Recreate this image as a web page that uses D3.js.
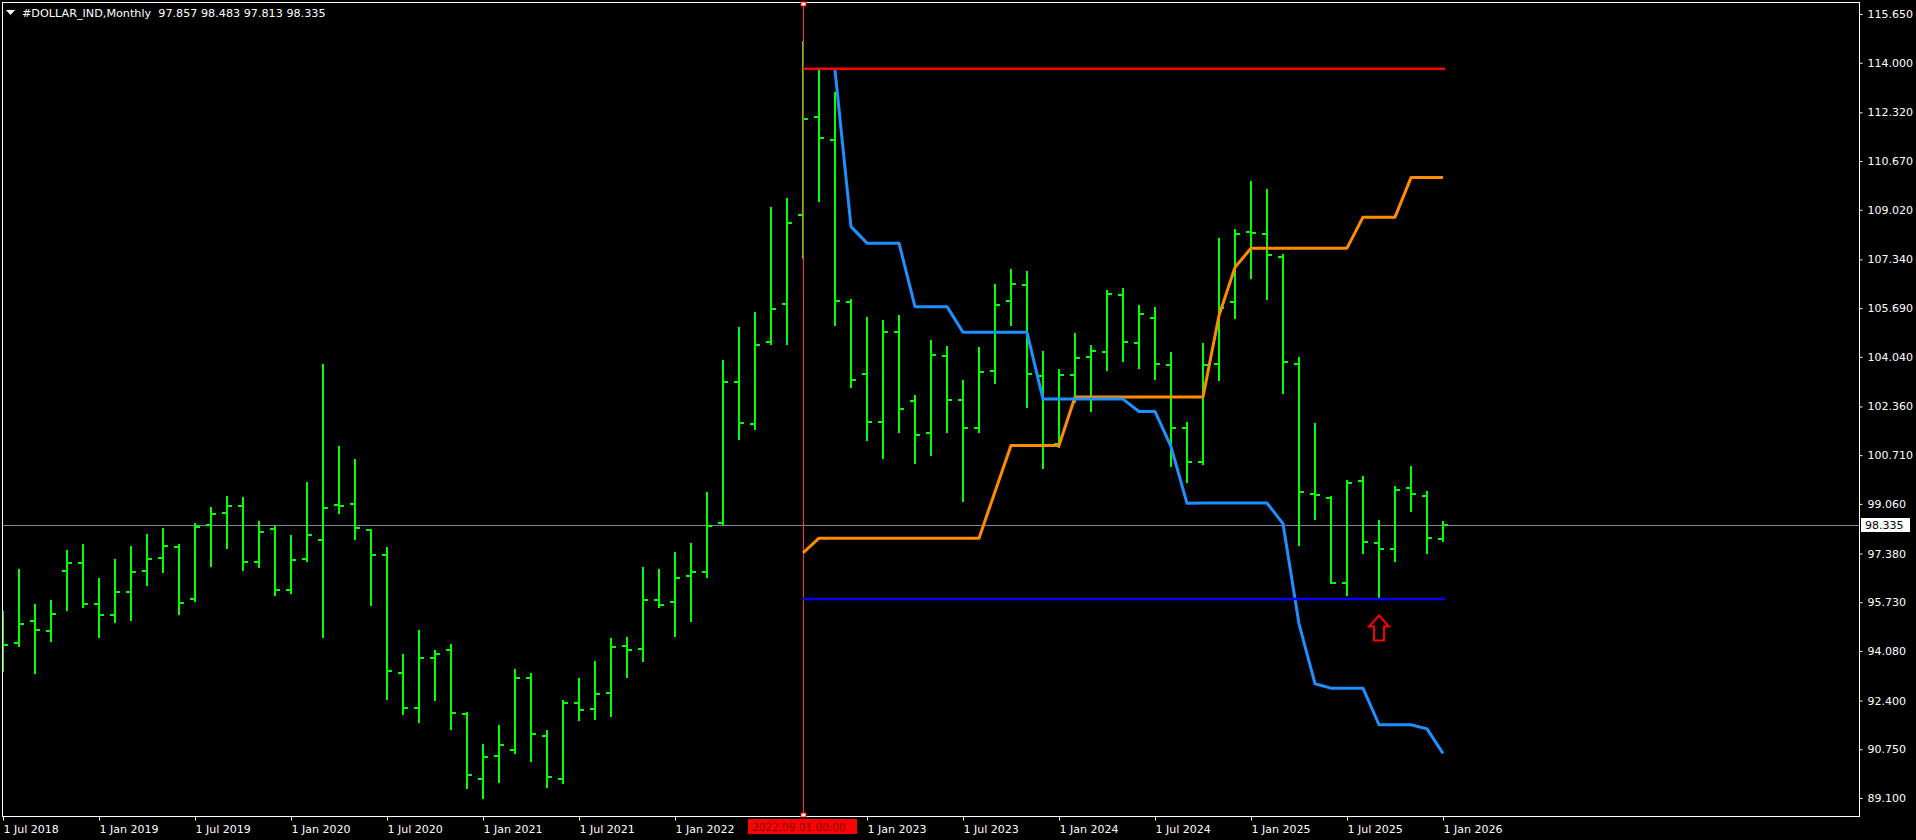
<!DOCTYPE html>
<html><head><meta charset="utf-8">
<script src="https://cdn.jsdelivr.net/npm/d3@7"></script>
<style>html,body{margin:0;padding:0;background:#000;overflow:hidden}</style>
</head><body><svg id="c" width="1916" height="840"></svg>
<script>
// ---- data ----
const months = [
 "2018-07","2018-08","2018-09","2018-10","2018-11","2018-12",
 "2019-01","2019-02","2019-03","2019-04","2019-05","2019-06","2019-07","2019-08","2019-09","2019-10","2019-11","2019-12",
 "2020-01","2020-02","2020-03","2020-04","2020-05","2020-06","2020-07","2020-08","2020-09","2020-10","2020-11","2020-12",
 "2021-01","2021-02","2021-03","2021-04","2021-05","2021-06","2021-07","2021-08","2021-09","2021-10","2021-11","2021-12",
 "2022-01","2022-02","2022-03","2022-04","2022-05","2022-06","2022-07","2022-08","2022-09","2022-10","2022-11","2022-12",
 "2023-01","2023-02","2023-03","2023-04","2023-05","2023-06","2023-07","2023-08","2023-09","2023-10","2023-11","2023-12",
 "2024-01","2024-02","2024-03","2024-04","2024-05","2024-06","2024-07","2024-08","2024-09","2024-10","2024-11","2024-12",
 "2025-01","2025-02","2025-03","2025-04","2025-05","2025-06","2025-07","2025-08","2025-09","2025-10","2025-11","2025-12",
 "2026-01"];
const open = [94.50,94.36,95.11,94.74,96.80,97.07,95.68,95.31,96.09,96.80,97.23,97.61,95.85,98.35,98.75,98.99,97.10,98.22,
 96.16,97.21,97.85,99.03,99.07,98.19,97.34,93.35,92.16,93.85,94.12,91.96,
 89.76,90.53,90.73,93.17,91.20,89.75,92.33,92.12,92.67,94.26,94.16,95.80,
 95.74,96.61,96.74,98.40,103.20,101.78,104.55,105.83,108.85,112.17,111.39,105.91,
 103.46,101.84,104.89,102.55,101.46,104.08,102.59,101.64,103.57,105.94,106.48,103.40,
 101.10,103.44,104.05,104.21,106.15,104.52,105.37,103.78,101.64,100.49,103.81,105.90,
 108.26,108.20,107.43,103.81,99.40,99.25,96.37,99.83,97.73,97.52,99.60,99.33,
 97.857];
const high = [95.43,96.86,95.67,95.81,97.50,97.70,96.55,97.19,97.64,98.04,98.24,97.70,98.40,98.96,99.33,99.29,98.48,98.31,
 98.01,99.80,103.80,101.02,100.58,98.20,97.60,93.98,94.79,94.11,94.32,92.01,
 90.93,91.57,93.47,93.33,91.41,92.41,93.17,93.74,94.52,94.56,96.93,96.85,
 97.44,97.74,99.46,103.93,105.05,105.56,109.11,109.42,114.73,113.80,113.01,106.00,
 105.39,105.29,105.46,102.75,104.61,104.41,103.25,104.37,106.51,107.01,106.95,104.24,
 103.63,104.85,104.44,106.30,106.37,105.80,105.73,104.20,101.83,104.51,108.07,108.37,
 110.00,109.72,107.51,104.03,101.80,99.32,99.87,100.02,98.53,99.65,100.34,99.50,
 98.483];
const low = [93.41,94.26,93.35,94.43,95.45,95.58,94.56,95.07,95.14,96.33,96.76,95.34,95.77,96.94,97.58,96.83,96.93,95.99,
 96.05,97.14,94.56,98.76,97.88,95.65,92.46,91.96,91.68,92.43,91.45,89.45,
 89.11,89.65,90.61,90.36,89.48,89.62,91.75,91.79,91.89,93.21,93.75,95.56,
 94.57,95.10,96.60,98.38,101.27,101.61,104.48,104.48,107.40,109.33,105.12,103.03,
 101.23,100.62,101.50,100.43,100.71,101.48,99.17,101.51,103.17,105.13,102.35,100.29,
 101.00,102.52,102.22,103.61,103.91,103.67,103.30,100.35,99.81,100.42,103.24,105.37,
 106.72,105.99,102.81,97.66,98.56,96.39,95.96,97.38,95.86,97.12,98.83,97.38,
 97.813];
const close = [94.28,95.00,94.80,95.34,97.07,95.68,95.31,96.06,96.76,97.19,97.64,95.72,98.29,98.72,98.99,97.09,98.11,96.16,
 97.17,98.02,98.93,99.00,98.25,97.34,93.41,92.16,93.85,93.99,91.99,89.89,
 90.50,90.90,93.17,91.28,89.82,92.33,92.08,92.63,94.22,94.12,95.80,95.64,
 96.56,96.74,98.31,103.20,101.80,104.45,105.66,108.58,112.10,111.46,105.94,103.27,
 101.84,104.89,102.28,101.40,104.11,102.59,101.63,103.54,105.81,106.52,103.47,101.05,
 103.43,104.01,104.25,106.18,104.55,105.50,103.81,101.64,100.49,103.78,105.70,108.20,
 108.23,107.50,103.88,99.45,99.37,96.39,99.77,97.78,97.52,99.52,99.40,97.90,
 98.335];
// orange indicator line, from Sep 2022
const orangeStart = "2022-09";
const orangeVals = [97.40,97.90,97.90,97.90,97.90,97.90,97.90,97.90,97.90,97.90,97.90,97.90,99.47,101.04,101.04,101.04,101.04,
 102.68,102.68,102.68,102.68,102.68,102.68,102.68,102.68,102.68,105.44,107.07,107.72,107.72,107.72,107.72,107.72,107.72,107.72,
 108.77,108.77,108.77,110.11,110.11,110.11];
// light blue indicator line, from Nov 2022
const blueStart = "2022-11";
const blueVals = [113.75,108.45,107.89,107.89,107.89,105.74,105.74,105.74,104.87,104.87,104.87,104.87,104.87,
 102.61,102.61,102.61,102.61,102.61,102.61,102.19,102.19,101.00,99.08,99.09,99.09,99.09,99.09,99.09,
 98.39,95.00,92.97,92.82,92.82,92.82,91.58,91.58,91.58,91.44,90.61];
// horizontal level lines
const levelStart = "2022-09", levelEnd = "2026-01";
const resistanceLevel = 113.80;
const supportLevel = 95.84;
const markerMonth = "2022-09";
const markerLabel = "2022.09.01 00:00";
const arrowMonth = "2025-09";
const arrowPrice = 95.28;
const priceTicks = [115.65,114.00,112.32,110.67,109.02,107.34,105.69,104.04,102.36,100.71,99.06,97.38,95.73,94.08,92.40,90.75,89.10];
// (the 1 Jul 2022 label is covered by the marker time label in the reference)
const timeTickMonths = ["2018-07","2019-01","2019-07","2020-01","2020-07","2021-01","2021-07","2022-01","2023-01","2023-07","2024-01","2024-07","2025-01","2025-07","2026-01"];
const timeTickLabels = ["1 Jul 2018","1 Jan 2019","1 Jul 2019","1 Jan 2020","1 Jul 2020","1 Jan 2021","1 Jul 2021","1 Jan 2022","1 Jan 2023","1 Jul 2023","1 Jan 2024","1 Jul 2024","1 Jan 2025","1 Jul 2025","1 Jan 2026"];
const symbolTitle = "#DOLLAR_IND,Monthly";

// ---- drawing ----
const FONT = "DejaVu Sans";
const FS = "11px";
const svg = d3.select("#c");
const L = 2, T = 2, R = 1859, B = 816;
const idx = m => months.indexOf(m);
const x = d3.scaleLinear().domain([0, 116]).range([3, 1859]);
const y = d3.scaleLinear().domain([89.10, 115.65]).range([798, 14]);

svg.append("rect").attr("width",1916).attr("height",840).attr("fill","#000");
svg.append("defs").append("clipPath").attr("id","plot")
  .append("rect").attr("x",L+1).attr("y",T+1).attr("width",R-L-1).attr("height",B-T-1);
const g = svg.append("g").attr("clip-path","url(#plot)");

// last price line
const lp = close[close.length-1];
g.append("line").attr("x1",L).attr("x2",R).attr("y1",Math.round(y(lp))+0.5).attr("y2",Math.round(y(lp))+0.5)
  .attr("stroke","#778899").attr("stroke-width",1);

const mx = Math.round(x(idx(markerMonth)))+0.5;

// OHLC bars
const bars = g.append("g").attr("stroke","#00ff00").attr("stroke-width",2).attr("shape-rendering","crispEdges");
months.forEach((m,i)=>{
  const cx = x(i);
  bars.append("line").attr("x1",cx).attr("x2",cx).attr("y1",Math.round(y(high[i]))).attr("y2",Math.round(y(low[i]))+1);
  bars.append("line").attr("x1",cx-5).attr("x2",cx).attr("y1",Math.round(y(open[i]))).attr("y2",Math.round(y(open[i])));
  bars.append("line").attr("x1",cx).attr("x2",cx+5).attr("y1",Math.round(y(close[i]))).attr("y2",Math.round(y(close[i])));
});

// vertical marker line
g.append("line").attr("x1",mx).attr("x2",mx).attr("y1",T).attr("y2",B).attr("stroke","#ff3030").attr("stroke-width",1);

// indicator lines
const line = d3.line().x(d=>x(d[0])).y(d=>y(d[1]));
const oS = idx(orangeStart), bS = idx(blueStart);
g.append("path").attr("d", line(orangeVals.map((v,k)=>[oS+k,v]))).attr("fill","none").attr("stroke","#ff8c00").attr("stroke-width",3).attr("stroke-linejoin","round");
g.append("path").attr("d", line(blueVals.map((v,k)=>[bS+k,v]))).attr("fill","none").attr("stroke","#1e90ff").attr("stroke-width",3).attr("stroke-linejoin","round");

// levels
const lx1 = x(idx(levelStart)), lx2 = x(idx(levelEnd))+2;
g.append("line").attr("x1",lx1).attr("x2",lx2).attr("y1",y(resistanceLevel)).attr("y2",y(resistanceLevel)).attr("stroke","#ff0000").attr("stroke-width",2.5);
g.append("line").attr("x1",lx1).attr("x2",lx2).attr("y1",y(supportLevel)).attr("y2",y(supportLevel)).attr("stroke","#0000ff").attr("stroke-width",2.5);

// arrow
const ax = x(idx(arrowMonth)), ay = y(arrowPrice);
g.append("path").attr("d",`M${ax},${ay} L${ax+10},${ay+11} L${ax+5},${ay+11} L${ax+5},${ay+25} L${ax-5},${ay+25} L${ax-5},${ay+11} L${ax-10},${ay+11} Z`)
  .attr("fill","none").attr("stroke","#ff0000").attr("stroke-width",2);

// frame
svg.append("rect").attr("x",L+0.5).attr("y",T+0.5).attr("width",R-L).attr("height",B-T).attr("fill","none").attr("stroke","#fff").attr("stroke-width",1);

// axes
const yAxis = d3.axisRight(y).tickValues(priceTicks).tickFormat(d3.format(".3f")).tickSize(3).tickPadding(5);
const ya = svg.append("g").attr("transform",`translate(${R+0.5},0)`).call(yAxis);
ya.select(".domain").remove();
ya.selectAll("line").attr("stroke","#fff");
ya.selectAll("text").attr("fill","#fff").attr("font-family",FONT).attr("font-size",FS);

const xAxis = d3.axisBottom(x).tickValues(timeTickMonths.map(idx)).tickFormat((d,i)=>timeTickLabels[i]).tickSize(4).tickPadding(5);
const xa = svg.append("g").attr("transform",`translate(0,${B+0.5})`).call(xAxis);
xa.select(".domain").remove();
xa.selectAll("line").attr("stroke","#fff");
xa.selectAll("text").attr("fill","#fff").attr("font-family",FONT).attr("font-size",FS).attr("text-anchor","start").attr("dx","0");

// marker squares & time label
[T, B-3].forEach(yy=>svg.append("rect").attr("x",mx-2.5).attr("y",yy).attr("width",5).attr("height",4).attr("fill","#fff").attr("stroke","#ff0000").attr("stroke-width",1));
svg.append("rect").attr("x",748).attr("y",819).attr("width",109).attr("height",15).attr("fill","#ff0000");
svg.append("text").attr("x",752).attr("y",831).attr("fill","#800000").attr("font-family",FONT).attr("font-size","10.5px").text(markerLabel);

// last price label
svg.append("rect").attr("x",1861).attr("y",Math.round(y(lp))-7).attr("width",49).attr("height",14).attr("fill","#fff");
svg.append("text").attr("x",1865).attr("y",y(lp)).attr("dy","0.35em").attr("fill","#000").attr("font-family",FONT).attr("font-size",FS).text(d3.format(".3f")(lp));

// title
svg.append("path").attr("d","M6,10 L15,10 L10.5,15 Z").attr("fill","#fff");
svg.append("text").attr("x",22).attr("y",17).attr("fill","#fff").attr("font-family",FONT).attr("font-size","11.2px")
  .style("white-space","pre")
  .text(`${symbolTitle}  ${d3.format(".3f")(open[open.length-1])} ${d3.format(".3f")(high[high.length-1])} ${d3.format(".3f")(low[low.length-1])} ${d3.format(".3f")(lp)}`);
</script></body></html>
